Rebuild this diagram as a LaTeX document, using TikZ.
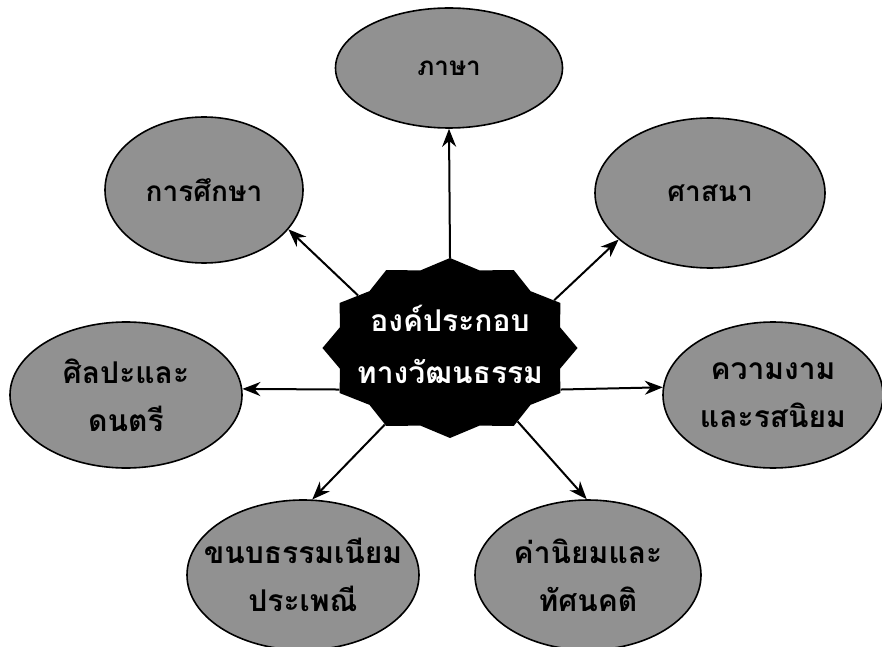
\documentclass[tikz,border=0pt]{standalone}
\usepackage{fontspec}
\usepackage{tikz}
\usetikzlibrary{arrows.meta,shapes.geometric}
\newfontfamily\thaifont[Script=Thai]{Loma}
\definecolor{topicgray}{RGB}{145,145,145}

\begin{document}
\begin{tikzpicture}[
    x=1pt, y=1pt,
    every node/.style={align=center},
    topic/.style={ellipse, draw, line width=1.6pt, fill=topicgray, inner xsep=-45pt, inner ysep=-18pt,
        font=\thaifont\bfseries\fontsize{30}{48}\selectfont},
    arr/.style={-{Stealth[length=18pt, width=14pt]}, line width=2pt}
]
\useasboundingbox (0,0) rectangle (882,646);
% centre
\begin{scope}[shift={(450,298)}, xscale=1.417, transform shape]
\node (hub) [star, star points=12, star point ratio=1.12, minimum size=180pt, inner sep=0pt, fill=black] {};
\end{scope}
\node (hubtext) at (450,302) [text=white, font=\thaifont\bfseries\fontsize{30}{52}\selectfont] {องค์ประกอบ\\ทางวัฒนธรรม};
% topics
\node (lang) [topic, minimum width=227pt, minimum height=120pt, font=\thaifont\bfseries\fontsize{26}{40}\selectfont] at (449,578) {ภาษา};
\node (edu) [topic, minimum width=198pt, minimum height=146pt, font=\thaifont\bfseries\fontsize{28}{40}\selectfont] at (204,456) {การศึกษา};
\node (rel) [topic, minimum width=230pt, minimum height=150pt, font=\thaifont\bfseries\fontsize{28}{40}\selectfont] at (710,453) {ศาสนา};
\node (art) [topic, minimum width=232pt, minimum height=146pt] at (126,251) {ศิลปะและ\\ดนตรี};
\node (beauty) [topic, minimum width=220pt, minimum height=146pt] at (773,251) {ความงาม\\และรสนิยม};
\node (custom) [topic, minimum width=232pt, minimum height=150pt] at (303,71) {ขนบธรรมเนียม\\ประเพณี};
\node (value) [topic, minimum width=226pt, minimum height=150pt] at (588,71) {ค่านิยมและ\\ทัศนคติ};
% arrows
\draw[arr] (hub.90) -- (lang.south);
\draw[arr] (hub.141) -- (edu.-25);
\draw[arr] (hub.33) -- (rel.207);
\draw[arr] (hub.208) -- (art.3.5);
\draw[arr] (hub.332) -- (beauty.176.5);
\draw[arr] (hub.239) -- (custom.83);
\draw[arr] (hub.303) -- (value.91);
\end{tikzpicture}
\end{document}
